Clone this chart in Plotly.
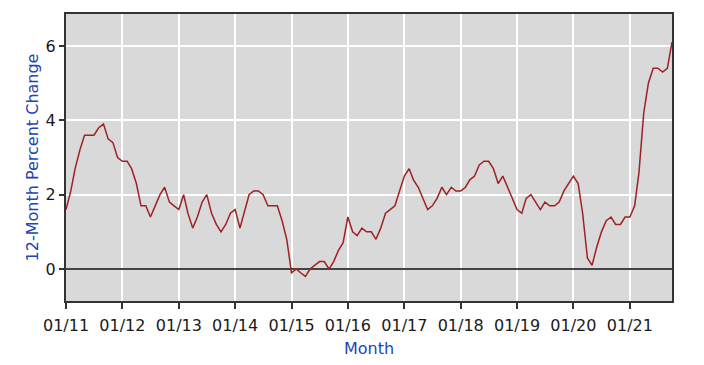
import plotly.graph_objects as go
import pandas as pd

# 12-month percent change, monthly, Jan 2011 - Oct 2021
start_month = "2011-01-01"
values_2011 = [1.6, 2.1, 2.7, 3.2, 3.6, 3.6, 3.6, 3.8, 3.9, 3.5, 3.4, 3.0]
values_2012 = [2.9, 2.9, 2.7, 2.3, 1.7, 1.7, 1.4, 1.7, 2.0, 2.2, 1.8, 1.7]
values_2013 = [1.6, 2.0, 1.5, 1.1, 1.4, 1.8, 2.0, 1.5, 1.2, 1.0, 1.2, 1.5]
values_2014 = [1.6, 1.1, 1.5, 2.0, 2.1, 2.1, 2.0, 1.7, 1.7, 1.7, 1.3, 0.8]
values_2015 = [-0.1, 0.0, -0.1, -0.2, 0.0, 0.1, 0.2, 0.2, 0.0, 0.2, 0.5, 0.7]
values_2016 = [1.4, 1.0, 0.9, 1.1, 1.0, 1.0, 0.8, 1.1, 1.5, 1.6, 1.7, 2.1]
values_2017 = [2.5, 2.7, 2.4, 2.2, 1.9, 1.6, 1.7, 1.9, 2.2, 2.0, 2.2, 2.1]
values_2018 = [2.1, 2.2, 2.4, 2.5, 2.8, 2.9, 2.9, 2.7, 2.3, 2.5, 2.2, 1.9]
values_2019 = [1.6, 1.5, 1.9, 2.0, 1.8, 1.6, 1.8, 1.7, 1.7, 1.8, 2.1, 2.3]
values_2020 = [2.5, 2.3, 1.5, 0.3, 0.1, 0.6, 1.0, 1.3, 1.4, 1.2, 1.2, 1.4]
values_2021 = [1.4, 1.7, 2.6, 4.2, 5.0, 5.4, 5.4, 5.3, 5.4, 6.1]

values = (values_2011 + values_2012 + values_2013 + values_2014 + values_2015 +
          values_2016 + values_2017 + values_2018 + values_2019 + values_2020 +
          values_2021)
months = pd.date_range(start_month, periods=len(values), freq="MS")

tick_dates = pd.date_range("2011-01-01", "2021-01-01", freq="YS")
tick_labels = ["01/11", "01/12", "01/13", "01/14", "01/15", "01/16",
               "01/17", "01/18", "01/19", "01/20", "01/21"]

fig = go.Figure()
fig.add_trace(go.Scatter(
    x=months, y=values, mode="lines",
    line=dict(color="#9e2124", width=1.5),
    showlegend=False,
))

axis_font = dict(family="DejaVu Sans", size=16, color="#1a1a1a")
title_font = dict(family="DejaVu Sans", size=16, color="#2146b0")

fig.update_layout(
    width=704, height=365,
    margin=dict(l=66, r=32, t=14, b=64),
    paper_bgcolor="white",
    plot_bgcolor="#d9d9d9",
    xaxis=dict(
        range=[months[0], months[-1]],
        tickvals=list(tick_dates), ticktext=tick_labels,
        showgrid=True, gridcolor="white", gridwidth=2,
        ticks="outside", ticklen=6, tickcolor="#333333", tickwidth=1.5,
        ticklabelstandoff=3,
        showline=True, linecolor="#333333", linewidth=2, mirror=True,
        tickfont=axis_font,
        title=dict(text="Month", font=title_font, standoff=9),
        zeroline=False, automargin=False,
    ),
    yaxis=dict(
        range=[-0.86, 6.86],
        tickvals=[0, 2, 4, 6],
        showgrid=True, gridcolor="white", gridwidth=2,
        ticks="outside", ticklen=5, tickcolor="#333333", tickwidth=1.5,
        showline=True, linecolor="#333333", linewidth=2, mirror=True,
        tickfont=axis_font,
        title=dict(text="12-Month Percent Change", font=title_font, standoff=3),
        zeroline=True, zerolinecolor="#444444", zerolinewidth=2,
        automargin=False,
    ),
)

fig.write_html("out.html")
